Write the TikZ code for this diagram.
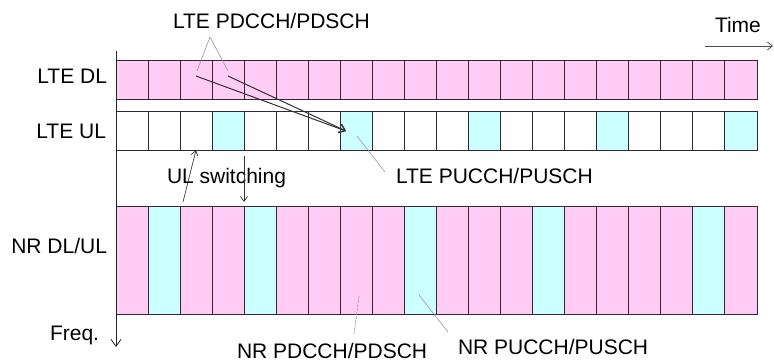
\documentclass[tikz,border=0pt]{standalone}
\usepackage{fontspec}
\setmainfont{Liberation Sans}
\usetikzlibrary{arrows.meta}
\definecolor{dlpink}{RGB}{255,204,245}
\definecolor{ulcyan}{RGB}{204,255,255}
\definecolor{cellline}{RGB}{50,40,50}
\tikzset{
  cell/.style={draw=cellline, line width=1pt, inner sep=0pt, outer sep=0pt, minimum width=32.05pt},
  lbl/.style={inner sep=0pt, outer sep=0pt, font=\fontsize{21}{25}\selectfont},
  pointer/.style={draw=gray!80, line width=0.6pt},
  bigarrow/.style={draw=black!80, line width=1pt, -{Straight Barb[length=6pt,width=9pt]}},
  smallarrow/.style={draw=black!80, line width=0.7pt, -{Straight Barb[length=5pt,width=7pt]}},
  axisarrow/.style={draw=black!85, line width=0.8pt, -{Straight Barb[length=7pt,width=10pt]}},
}
\begin{document}
\begin{tikzpicture}[x=1pt,y=-1pt]
\useasboundingbox (0,0) rectangle (774,362);
% LTE DL row
\foreach \i in {0,...,19} {
  \node[cell, fill=dlpink, minimum height=39.5pt] (dl\i) at ({116+32.05*(\i+0.5)},79.75) {};
}
% LTE UL row
\foreach \i in {0,...,19} {
  \pgfmathtruncatemacro{\m}{mod(\i,4)}
  \ifnum\m=3 \def\fc{ulcyan}\else\def\fc{white}\fi
  \node[cell, fill=\fc, minimum height=38.5pt] (ul\i) at ({116+32.05*(\i+0.5)},130.75) {};
}
% NR row
\foreach \i/\fc in {0/dlpink,1/ulcyan,2/dlpink,3/dlpink,4/ulcyan,5/dlpink,6/dlpink,7/dlpink,8/dlpink,9/ulcyan,10/dlpink,11/dlpink,12/dlpink,13/ulcyan,14/dlpink,15/dlpink,16/dlpink,17/dlpink,18/ulcyan,19/dlpink} {
  \node[cell, fill=\fc, minimum height=107.5pt] (nr\i) at ({116+32.05*(\i+0.5)},260.25) {};
}
% axis
\coordinate (axtop) at (116,51);
\coordinate (axbot) at (116,347);
\draw[axisarrow] (axtop) -- (axbot);
\coordinate (tstart) at (705,46);
\coordinate (tend) at (773,46);
\draw[draw=black!70, line width=0.8pt, -{Straight Barb[length=5pt,width=8pt]}] (tstart) -- (tend);

% labels
\node[lbl, anchor=base west] (tlabel) at (715,32) {Time};
\node[lbl, anchor=base west] (ltepd) at (173,28.5) {LTE PDCCH/PDSCH};
\node[lbl, anchor=base east] (ltedl) at (107,83.5) {LTE DL};
\node[lbl, anchor=base east] (lteul) at (106,138.5) {LTE UL};
\node[lbl, anchor=base east] (nrdlul) at (107,253.5) {NR DL/UL};
\node[lbl, anchor=base west] (ulsw) at (167,183) {UL switching};
\node[lbl, anchor=base west] (ltepu) at (396,183) {LTE PUCCH/PUSCH};
\node[lbl, anchor=base west] (freq) at (50,340) {Freq.};
\node[lbl, anchor=base west] (nrpd) at (237,358) {NR PDCCH/PDSCH};
\node[lbl, anchor=base west] (nrpu) at (458,354.5) {NR PUCCH/PUSCH};

% LTE PDCCH pointers
\coordinate (apex) at (210,37);
\coordinate (pa) at (197,71);
\coordinate (pb) at (228,71);
\draw[pointer] (pa) -- (apex) -- (pb);
\coordinate (sa) at (196,76);
\coordinate (sb) at (228,76);
\coordinate (ulhit) at (346,131);
\draw[bigarrow] (sa) -- (ulhit);
\draw[bigarrow] (sb) -- (ulhit);
% LTE PUCCH pointer
\coordinate (pu1) at (357,136);
\coordinate (pu2) at (385,172);
\draw[pointer] (pu1) -- (pu2);
% UL switching arrows
\coordinate (sw1a) at (183,202);
\coordinate (sw1b) at (196,150);
\draw[smallarrow] (sw1a) -- (sw1b);
\coordinate (sw2a) at (244,156);
\coordinate (sw2b) at (244,202);
\draw[smallarrow] (sw2a) -- (sw2b);
% NR pointers
\coordinate (np1) at (359,296);
\coordinate (np2) at (354,334);
\draw[pointer, dash pattern=on 3pt off 1pt] (np1) -- (np2);
\coordinate (nu1) at (419,295);
\coordinate (nu2) at (448,332);
\draw[pointer] (nu1) -- (nu2);
\end{tikzpicture}
\end{document}
